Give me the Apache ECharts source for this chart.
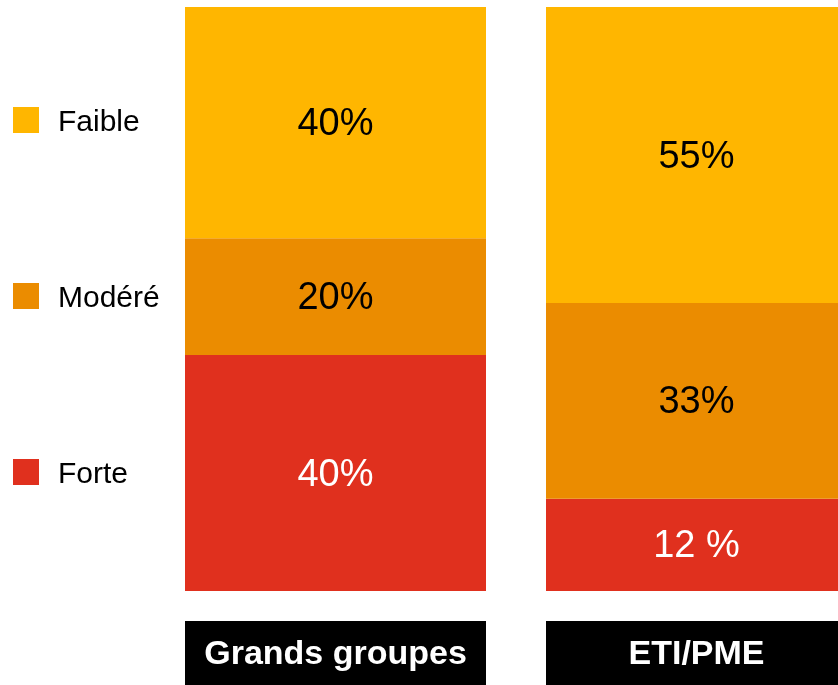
<!DOCTYPE html>
<html>
<head>
<meta charset="utf-8">
<script src="https://cdn.jsdelivr.net/npm/echarts@6/dist/echarts.min.js"></script>
<style>
  html, body { margin: 0; padding: 0; background: #fff; }
  #container { width: 838px; height: 685px; }
</style>
</head>
<body>
<div id="container"></div>
<script>
var dom = document.getElementById('container');
var myChart = echarts.init(dom, null, { renderer: 'canvas' });

// categories (one bar each)
let categories = ['Grands groupes', 'ETI/PME'];

// segment heights as drawn (share of the bar, %)
let forte = [40.4, 15.8];
let modere = [20, 33.5];
let faible = [39.6, 50.7];

// printed labels
let forteLabels = ['40%', '12 %'];
let modereLabels = ['20%', '33%'];
let faibleLabels = ['40%', '55%'];

const font = 'Liberation Sans, Arial, sans-serif';

function seg(name, values, labels, color, textColor) {
    return {
        name: name,
        type: 'bar',
        stack: 'total',
        barWidth: 301,
        itemStyle: { color: color },
        label: {
            show: true,
            position: 'inside',
            offset: [0, 2],
            color: textColor,
            fontSize: 38,
            fontFamily: font,
            formatter: function (p) { return labels[p.dataIndex]; }
        },
        emphasis: { disabled: true },
        data: values
    };
}

var option = {
    backgroundColor: '#fff',
    animation: false,
    // second bar runs past the right edge of the picture
    grid: { left: 155, top: 7, width: 722, height: 584, outerBoundsMode: 'none' },
    legend: {
        orient: 'vertical',
        left: 13,
        top: 107,
        padding: 0,
        itemWidth: 26,
        itemHeight: 26,
        itemGap: 145,
        icon: 'rect',
        selectedMode: false,
        data: ['Faible', 'Modéré', 'Forte'],
        formatter: '{t|{name}}',
        textStyle: {
            fontSize: 30,
            fontFamily: font,
            color: '#000',
            rich: {
                t: {
                    fontSize: 30,
                    fontFamily: font,
                    color: '#000',
                    padding: [6, 0, 0, 14]
                }
            }
        }
    },
    xAxis: {
        type: 'category',
        data: categories,
        axisLine: { show: false },
        axisTick: { show: false },
        axisLabel: {
            margin: 30,
            interval: 0,
            color: '#fff',
            fontSize: 34,
            fontWeight: 'bold',
            fontFamily: font,
            backgroundColor: '#000',
            width: 301,
            height: 61,
            lineHeight: 61,
            padding: [3, 0, 0, 0],
            align: 'center',
            verticalAlign: 'top',
            overflow: 'none'
        }
    },
    yAxis: {
        type: 'value',
        min: 0,
        max: 100,
        show: false
    },
    series: [
        seg('Forte', forte, forteLabels, '#E0301E', '#fff'),
        seg('Modéré', modere, modereLabels, '#EB8C00', '#000'),
        seg('Faible', faible, faibleLabels, '#FFB600', '#000')
    ]
};

myChart.setOption(option);
window.addEventListener('resize', myChart.resize);
</script>
</body>
</html>
